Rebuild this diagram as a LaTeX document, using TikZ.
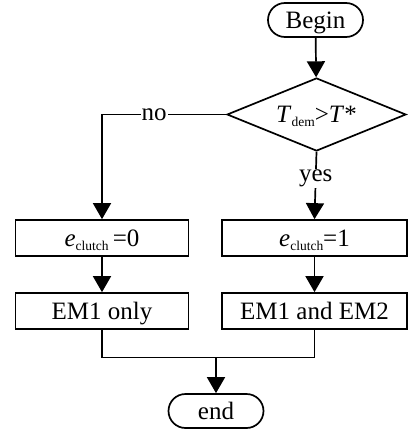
\documentclass[tikz,border=0pt]{standalone}
\usepackage{fontspec}
\setmainfont{Liberation Serif}
\usetikzlibrary{shapes.geometric,arrows.meta}
\newcommand{\sbs}[1]{\raisebox{-4pt}{\fontsize{13.5}{14}\selectfont #1}}
\begin{document}
\begin{tikzpicture}[x=1pt,y=-1pt,
  every node/.style={font=\fontsize{25}{28}\selectfont},
  line/.style={line width=1.7pt},
  arr/.style={line width=1.7pt, -{Triangle[length=16pt,width=18pt]}},
  txt/.style={text height=16.5pt, text depth=0pt},
  term/.style={draw, txt, line width=1.7pt, rounded corners=17pt, minimum width=95pt, minimum height=34pt, inner sep=0pt},
  box/.style={draw, txt, line width=1.7pt, rectangle, minimum height=36pt, inner sep=0pt},
  dec/.style={draw, txt, diamond, line width=1.7pt, minimum width=179pt, minimum height=73pt, aspect=2.45, inner sep=0pt},
  lbl/.style={fill=white, inner sep=1pt}]
\useasboundingbox (0,0) rectangle (409,434);
\node[term] (begin) at (315.5,20) {Begin};
\node[dec] (dec) at (316.5,114.5) {\textit{T}\sbs{dem}>\textit{T}*};
\node[box, minimum width=173pt] (e0) at (102,238) {\textit{e}\sbs{clutch}\,=0};
\node[box, minimum width=185pt] (e1) at (314.5,238) {\textit{e}\sbs{clutch}=1};
\node[box, minimum width=173pt] (em1) at (102,311) {EM1 only};
\node[box, minimum width=185pt] (em12) at (314.5,311) {EM1 and EM2};
\node[term] (end) at (216,411) {end};
\coordinate (merge) at (216,357.5);
\draw[arr] (begin) -- (dec);
\draw[arr] (dec.west) -- node[lbl, pos=0.58] {no} (e0.north |- dec.west) -- (e0.north);
\draw[arr] (dec.south) -- node[lbl, pos=0.39] {yes} (e1.north);
\draw[arr] (e0) -- (em1);
\draw[arr] (e1) -- (em12);
\draw[line] (em1.south) |- (em12.south |- merge) -- (em12.south);
\draw[arr] (merge) -- (end.north);
\end{tikzpicture}
\end{document}
